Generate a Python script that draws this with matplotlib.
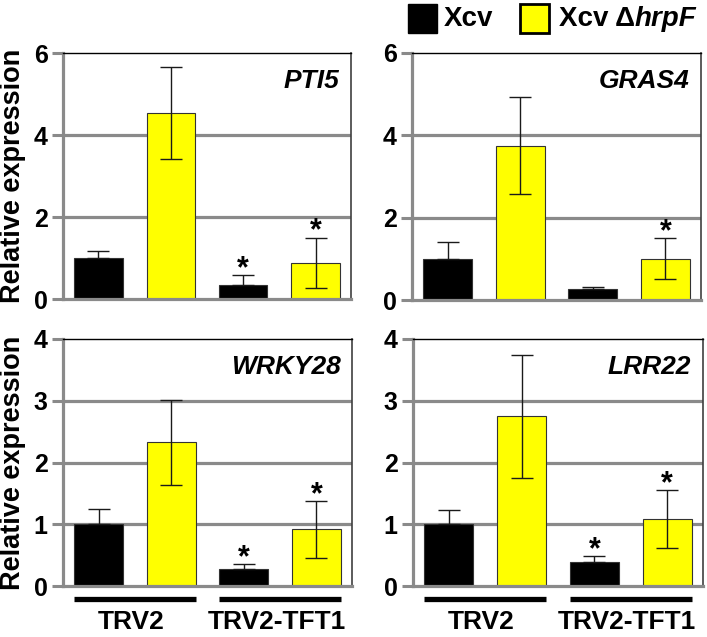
import matplotlib
matplotlib.use("Agg")
import matplotlib.pyplot as plt
from matplotlib.patches import Rectangle
from matplotlib.transforms import blended_transform_factory

plt.rcParams['font.family'] = ['Liberation Sans', 'DejaVu Sans']
plt.rcParams['font.weight'] = 'bold'

# ---------------- data ----------------
genes = ['PTI5', 'GRAS4', 'WRKY28', 'LRR22']
conditions = ['TRV2', 'TRV2-TFT1']
series = ['Xcv', 'Xcv \u0394', 'hrpF']  # legend pieces

# bar order: TRV2/Xcv, TRV2/XcvΔhrpF, TFT1/Xcv, TFT1/XcvΔhrpF
pti5_mean = [1.00, 4.53, 0.34, 0.89]
pti5_err = [0.18, 1.12, 0.24, 0.61]
pti5_star = [False, False, True, True]

gras4_mean = [1.00, 3.75, 0.26, 1.00]
gras4_err = [0.40, 1.17, 0.06, 0.50]
gras4_star = [False, False, False, True]

wrky28_mean = [1.00, 2.33, 0.275, 0.92]
wrky28_err = [0.25, 0.69, 0.075, 0.46]
wrky28_star = [False, False, True, True]

lrr22_mean = [1.00, 2.745, 0.385, 1.08]
lrr22_err = [0.23, 1.00, 0.105, 0.47]
lrr22_star = [False, False, True, True]

top_ticks = [0, 2, 4, 6]
bottom_ticks = [0, 1, 2, 3, 4]

# ---------------- layout ----------------
W, H = 707, 637
fig = plt.figure(figsize=(W / 100, H / 100), dpi=100)


def rect(l, t, r, b):
    return [l / W, 1 - b / H, (r - l) / W, (b - t) / H]


panels = [
    (rect(63, 53, 351, 299), 'PTI5', pti5_mean, pti5_err, pti5_star, top_ticks, True, False),
    (rect(412, 53, 701, 300), 'GRAS4', gras4_mean, gras4_err, gras4_star, top_ticks, False, False),
    (rect(63, 339, 352, 586), 'WRKY28', wrky28_mean, wrky28_err, wrky28_star, bottom_ticks, True, True),
    (rect(413, 339, 703, 586), 'LRR22', lrr22_mean, lrr22_err, lrr22_star, bottom_ticks, False, True),
]

colors = ['black', '#FFFF00', 'black', '#FFFF00']
xpos = [0, 1, 2, 3]
bw = 0.67
gray = '#8a8a8a'

for r, gene, mean, err, star, ticks, ylab, xcat in panels:
    ax = fig.add_axes(r)
    ax.set_xlim(-0.49, 3.49)
    ax.set_ylim(ticks[0], ticks[-1])
    for t in ticks[1:-1]:
        ax.axhline(t, color=gray, lw=2.3, zorder=0)
    ax.bar(xpos, mean, width=bw, color=colors, edgecolor='#333333', linewidth=0.8, zorder=2)
    # lower half of the error bar is hidden inside the black bars
    lower = [e if c != 'black' else 0 for e, c in zip(err, colors)]
    ax.errorbar(xpos, mean, yerr=[lower, err], fmt='none', ecolor='#1a1a1a', elinewidth=1.0,
                capsize=8, capthick=1.0, zorder=3)
    for x, m, e, s in zip(xpos, mean, err, star):
        if s:
            ax.annotate('*', xy=(x, m + e), xytext=(0, -1.5), textcoords='offset points',
                        ha='center', va='baseline', fontsize=22, fontweight='bold')
    ax.set_yticks(ticks)
    ax.set_yticklabels([str(t) for t in ticks], fontsize=18, fontweight='bold')
    ax.set_xticks([])
    ax.tick_params(axis='y', length=8, width=2.2, color=gray, pad=3)
    ax.spines['left'].set_color(gray)
    ax.spines['left'].set_linewidth(2.3)
    ax.spines['bottom'].set_color(gray)
    ax.spines['bottom'].set_linewidth(2.3)
    ax.spines['top'].set_color('black')
    ax.spines['top'].set_linewidth(1.0)
    ax.spines['right'].set_color('#404040')
    ax.spines['right'].set_linewidth(1.2)
    ax.text(0.96, 0.885, gene, transform=ax.transAxes, ha='right', va='center',
            fontsize=19, fontweight='bold', fontstyle='italic')
    if ylab:
        ax.text(-0.172, 0.5, 'Relative expression', transform=ax.transAxes, rotation=90,
                ha='center', va='center', fontsize=19.5, fontweight='bold')
    if xcat:
        tr = blended_transform_factory(ax.transData, ax.transAxes)
        for i, cond in enumerate(conditions):
            x0 = xpos[2 * i] - bw / 2
            x1 = xpos[2 * i + 1] + bw / 2
            ax.plot([x0, x1], [-0.053, -0.053], transform=tr, color='black', lw=3.8,
                    solid_capstyle='butt', clip_on=False)
            ax.text((xpos[2 * i] + xpos[2 * i + 1]) / 2 - 0.05, -0.145, cond, transform=tr,
                    ha='center', va='center', fontsize=19, fontweight='bold')

# ---------------- legend ----------------
def px(x, y):
    return x / W, 1 - y / H

fig.add_artist(Rectangle(px(408, 33), 29 / W, 29 / H, transform=fig.transFigure,
                         facecolor='black', edgecolor='black', lw=1))
fig.add_artist(Rectangle(px(520, 33), 29 / W, 29 / H, transform=fig.transFigure,
                         facecolor='#FFFF00', edgecolor='black', lw=2))
fig.text(*px(444, 19), series[0], ha='left', va='center', fontsize=20, fontweight='bold')
t1 = fig.text(*px(559, 19), series[1], ha='left', va='center', fontsize=20, fontweight='bold')
fig.canvas.draw()
bb = t1.get_window_extent(renderer=fig.canvas.get_renderer())
fig.text(bb.x1 / W, 1 - 19 / H, series[2], ha='left', va='center', fontsize=20,
         fontweight='bold', fontstyle='italic')

fig.savefig('out.png', dpi=100)
